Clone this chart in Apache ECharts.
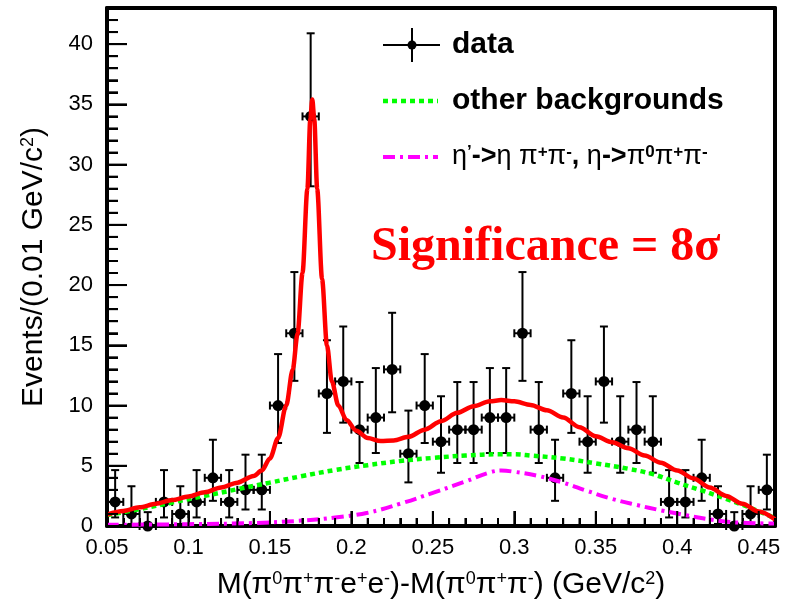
<!DOCTYPE html>
<html>
<head>
<meta charset="utf-8">
<script src="https://cdn.jsdelivr.net/npm/echarts@6/dist/echarts.min.js"></script>
<style>
  html, body { margin: 0; padding: 0; background: #ffffff; }
  #chart { width: 790px; height: 604px; }
</style>
</head>
<body>
<div id="chart"></div>
<script>
// Bin centres (GeV/c^2), 0.01 GeV/c^2 wide bins
const binCenters = [0.055, 0.065, 0.075, 0.085, 0.095, 0.105, 0.115, 0.125, 0.135, 0.145,
  0.155, 0.165, 0.175, 0.185, 0.195, 0.205, 0.215, 0.225, 0.235, 0.245,
  0.255, 0.265, 0.275, 0.285, 0.295, 0.305, 0.315, 0.325, 0.335, 0.345,
  0.355, 0.365, 0.375, 0.385, 0.395, 0.405, 0.415, 0.425, 0.435, 0.445, 0.455];
// Events per bin
const counts = [2, 1, 0, 2, 1, 2, 4, 2, 3, 3,
  10, 16, 34, 11, 12, 8, 9, 13, 6, 10,
  7, 8, 8, 9, 9, 16, 8, 4, 11, 7,
  12, 7, 8, 7, 2, 2, 4, 1, 0, 1, 3];
// Lower / upper ends of the vertical error bars
const errLow = [0.71, 0.17, 0, 0.71, 0.17, 0.71, 2.09, 0.71, 1.37, 1.37,
  6.89, 12.05, 28.2, 7.73, 8.58, 5.23, 6.06, 9.44, 3.62, 6.89,
  4.42, 5.23, 5.23, 6.06, 6.06, 12.05, 5.23, 2.09, 7.73, 4.42,
  8.58, 4.42, 5.23, 4.42, 0.71, 0.71, 2.09, 0.17, 0, 0.17, 1.37];
const errHigh = [4.64, 3.30, 1.15, 4.64, 3.30, 4.64, 7.16, 4.64, 5.92, 5.92,
  14.27, 21.08, 40.9, 15.42, 16.56, 11.95, 13.11, 17.70, 9.58, 14.27,
  10.77, 11.95, 11.95, 13.11, 13.11, 21.08, 11.95, 7.16, 15.42, 10.77,
  16.56, 10.77, 11.95, 10.77, 4.64, 4.64, 7.16, 3.30, 1.15, 3.30, 5.92];
const binHalfWidth = 0.005;

// Total fit curve
const totalFit = [
  [0.050, 0.95], [0.060, 1.25], [0.070, 1.55], [0.080, 1.85], [0.090, 2.15], [0.100, 2.45],
  [0.110, 2.8], [0.120, 3.2], [0.130, 3.6], [0.140, 4.15], [0.145, 4.6], [0.150, 5.6],
  [0.155, 7.3], [0.160, 10.0], [0.164, 13.0], [0.167, 16.0], [0.170, 21.0], [0.173, 28.0],
  [0.1748, 33.8], [0.176, 35.4], [0.1772, 33.8], [0.179, 28.0], [0.182, 20.5],
  [0.185, 15.0], [0.188, 12.0], [0.192, 10.0], [0.197, 8.8], [0.203, 7.9], [0.210, 7.3],
  [0.218, 7.05], [0.226, 7.1], [0.235, 7.4], [0.245, 8.0], [0.255, 8.7], [0.265, 9.4],
  [0.275, 9.95], [0.285, 10.35], [0.292, 10.45], [0.300, 10.35], [0.310, 10.05],
  [0.320, 9.6], [0.330, 9.0], [0.340, 8.2], [0.350, 7.45], [0.360, 6.95], [0.370, 6.45],
  [0.380, 5.85], [0.390, 5.25], [0.400, 4.6], [0.410, 3.95], [0.420, 3.2], [0.430, 2.5],
  [0.440, 1.85], [0.450, 1.2], [0.460, 0.55]
];
// Other backgrounds
const otherBkg = [
  [0.050, 0.9], [0.070, 1.4], [0.090, 1.95], [0.110, 2.5], [0.130, 3.05], [0.150, 3.6],
  [0.170, 4.15], [0.190, 4.65], [0.210, 5.05], [0.230, 5.4], [0.250, 5.65], [0.270, 5.85],
  [0.290, 5.95], [0.300, 5.95], [0.310, 5.85], [0.330, 5.6], [0.350, 5.2], [0.370, 4.75],
  [0.385, 4.3], [0.400, 3.6], [0.415, 2.95], [0.430, 2.25], [0.445, 1.5], [0.460, 0.65]
];
// eta' -> eta pi+ pi-, eta -> pi0 pi+ pi- background
const etaBkg = [
  [0.050, 0.1], [0.100, 0.15], [0.140, 0.25], [0.170, 0.45], [0.190, 0.7], [0.210, 1.1],
  [0.230, 1.85], [0.250, 2.75], [0.270, 3.7], [0.285, 4.45], [0.292, 4.6], [0.300, 4.5],
  [0.315, 4.15], [0.330, 3.6], [0.345, 2.9], [0.360, 2.25], [0.375, 1.75], [0.390, 1.3],
  [0.405, 0.9], [0.420, 0.55], [0.435, 0.3], [0.460, 0.2]
];

const xRange = [0.05, 0.46];
const yRange = [0, 43];
const xStep = 0.05, yStep = 5, minorDivisions = 5;

const sansFont = '"Liberation Sans", Arial, Helvetica, sans-serif';
const serifFont = '"Liberation Serif", "Times New Roman", serif';

const points = binCenters.map((c, i) => [c, counts[i], errLow[i], errHigh[i]]);

function renderPoint(params, api) {
  const x = api.value(0), y = api.value(1), lo = api.value(2), hi = api.value(3);
  const c = api.coord([x, y]);
  const top = api.coord([x, hi]);
  const bot = api.coord([x, lo]);
  const left = api.coord([x - binHalfWidth, y]);
  const right = api.coord([x + binHalfWidth, y]);
  const cap = 4;
  const st = { stroke: '#000', lineWidth: 2 };
  const line = (x1, y1, x2, y2) => ({ type: 'line', shape: { x1, y1, x2, y2 }, style: st });
  return {
    type: 'group',
    children: [
      line(c[0], top[1], c[0], bot[1]),
      line(c[0] - cap, top[1], c[0] + cap, top[1]),
      line(c[0] - cap, bot[1], c[0] + cap, bot[1]),
      line(left[0], c[1], right[0], c[1]),
      line(left[0], c[1] - cap, left[0], c[1] + cap),
      line(right[0], c[1] - cap, right[0], c[1] + cap),
      { type: 'circle', shape: { cx: c[0], cy: c[1], r: 5.5 }, style: { fill: '#000' } }
    ]
  };
}

const chart = echarts.init(document.getElementById('chart'), null, { renderer: 'canvas' });

const tickStyle = { color: '#000', width: 2 };
const subStyle = { s: { fontSize: 18, fontFamily: sansFont, color: '#000', verticalAlign: 'top' } };

chart.setOption({
  animation: false,
  grid: { left: 107, right: 15, top: 8, bottom: 78, outerBoundsMode: 'none' },
  xAxis: [{
    type: 'value', min: xRange[0], max: xRange[1], interval: xStep,
    splitLine: { show: false },
    axisLine: { show: true, onZero: false, lineStyle: { color: '#000', width: 4 } },
    axisTick: { show: true, inside: true, length: 15, lineStyle: tickStyle },
    minorTick: { show: true, splitNumber: minorDivisions, length: 8, lineStyle: tickStyle },
    axisLabel: {
      show: true, color: '#000', fontSize: 22, fontFamily: sansFont, margin: 11, showMaxLabel: false,
      formatter: v => String(+v.toFixed(2))
    },
    name: 'M(π{s|0}π{s|+}π{s|-}e{s|+}e{s|-})-M(π{s|0}π{s|+}π{s|-}) (GeV/c{s|2})',
    nameLocation: 'middle', nameGap: 44,
    nameTextStyle: { color: '#000', fontSize: 30, fontFamily: sansFont, rich: subStyle }
  }, {
    // top edge of the frame
    type: 'value', min: xRange[0], max: xRange[1], position: 'top',
    axisLine: { show: true, onZero: false, lineStyle: { color: '#000', width: 4 } },
    axisTick: { show: false }, axisLabel: { show: false }, splitLine: { show: false }
  }],
  yAxis: [{
    type: 'value', min: yRange[0], max: yRange[1], interval: yStep,
    splitLine: { show: false },
    axisLine: { show: true, onZero: false, lineStyle: { color: '#000', width: 4 } },
    axisTick: { show: true, inside: true, length: 20, lineStyle: tickStyle },
    minorTick: { show: true, splitNumber: minorDivisions, length: 11, lineStyle: tickStyle },
    axisLabel: { show: true, color: '#000', fontSize: 22, fontFamily: sansFont, margin: 14, showMaxLabel: false },
    name: 'Events/(0.01 GeV/c{s|2})',
    nameLocation: 'middle', nameGap: 58, nameRotate: 90,
    nameTextStyle: { color: '#000', fontSize: 30, fontFamily: sansFont, rich: subStyle }
  }, {
    // right edge of the frame
    type: 'value', min: yRange[0], max: yRange[1], position: 'right',
    axisLine: { show: true, onZero: false, lineStyle: { color: '#000', width: 4 } },
    axisTick: { show: false }, axisLabel: { show: false }, splitLine: { show: false }
  }],
  series: [
    {
      name: 'data', type: 'custom', data: points, renderItem: renderPoint, z: 2,
      encode: { x: 0, y: 1 }
    },
    {
      name: 'other backgrounds', type: 'line', data: otherBkg, showSymbol: false,
      smooth: 0.4, z: 3,
      lineStyle: { color: '#00ff00', width: 4.5, type: [5, 4] }
    },
    {
      name: 'eta background', type: 'line', data: etaBkg, showSymbol: false,
      smooth: 0.4, z: 3,
      lineStyle: { color: '#ff00ff', width: 4, type: [12, 5, 3, 5] }
    },
    {
      name: 'total fit', type: 'line', data: totalFit, showSymbol: false,
      smooth: 0.3, smoothMonotone: 'x', z: 4,
      lineStyle: { color: '#ff0000', width: 4.5 }
    }
  ]
});

// Tick marks on the bottom and left edges, placed through the axis scales
const tickGraphics = [];
const x0 = chart.convertToPixel({ xAxisIndex: 0 }, xRange[0]);
const y0 = chart.convertToPixel({ yAxisIndex: 0 }, yRange[0]);
for (let k = 0; xRange[0] + k * xStep / minorDivisions <= xRange[1] + 1e-9; k++) {
  const px = chart.convertToPixel({ xAxisIndex: 0 }, xRange[0] + k * xStep / minorDivisions);
  const len = k % minorDivisions === 0 ? 15 : 8;
  tickGraphics.push({ type: 'rect', z: 100, shape: { x: px - 1, y: y0 - len, width: 2, height: len }, style: { fill: '#000' } });
}
for (let k = 0; yRange[0] + k * yStep / minorDivisions <= yRange[1] + 1e-9; k++) {
  const py = chart.convertToPixel({ yAxisIndex: 0 }, yRange[0] + k * yStep / minorDivisions);
  const len = k % minorDivisions === 0 ? 20 : 11;
  tickGraphics.push({ type: 'rect', z: 100, shape: { x: x0, y: py - 1, width: len, height: 2 }, style: { fill: '#000' } });
}

const legendX = 383, legendLen = 55, legendTextX = 452;
const rowY = [45, 101, 157];
const legendFont = 'bold 30px ' + sansFont;

const labelGraphics = [
  // legend: data
  { type: 'line', shape: { x1: legendX, y1: rowY[0], x2: legendX + 57, y2: rowY[0] }, style: { stroke: '#000', lineWidth: 2 } },
  { type: 'line', shape: { x1: legendX + 29, y1: rowY[0] - 17, x2: legendX + 29, y2: rowY[0] + 17 }, style: { stroke: '#000', lineWidth: 2 } },
  { type: 'circle', shape: { cx: legendX + 29, cy: rowY[0], r: 4.5 }, style: { fill: '#000' } },
  { type: 'text', x: legendTextX, y: rowY[0], style: { text: 'data', font: legendFont, fill: '#000', verticalAlign: 'middle' } },
  // legend: other backgrounds
  { type: 'line', shape: { x1: legendX, y1: rowY[1], x2: legendX + legendLen, y2: rowY[1] }, style: { stroke: '#00ff00', lineWidth: 4.5, lineDash: [5, 4] } },
  { type: 'text', x: legendTextX, y: rowY[1], style: { text: 'other backgrounds', font: legendFont, fill: '#000', verticalAlign: 'middle' } },
  // legend: eta background
  { type: 'line', shape: { x1: legendX, y1: rowY[2], x2: legendX + legendLen, y2: rowY[2] }, style: { stroke: '#ff00ff', lineWidth: 4, lineDash: [12, 5, 3, 5] } },
  {
    type: 'text', x: legendTextX, y: rowY[2],
    style: {
      text: '{g|η}{s|\u2019}->{g|η π}{s|+}{g|π}{s|-}, {g|η}->{g|π}{s|0}{g|π}{s|+}{g|π}{s|-}',
      font: 'bold 27px ' + sansFont, fill: '#000', verticalAlign: 'middle',
      rich: {
        g: { fontSize: 27, fontWeight: 'normal', fontFamily: sansFont, fill: '#000' },
        s: { fontSize: 17, fontWeight: 'bold', fontFamily: sansFont, fill: '#000', verticalAlign: 'top' }
      }
    }
  },
  // significance annotation
  {
    type: 'text', x: 371, y: 248,
    style: { text: 'Significance = 8σ', font: 'bold 48px ' + serifFont, fill: '#ff0000', verticalAlign: 'middle' }
  }
];

chart.setOption({ graphic: labelGraphics.concat(tickGraphics) });
</script>
</body>
</html>
